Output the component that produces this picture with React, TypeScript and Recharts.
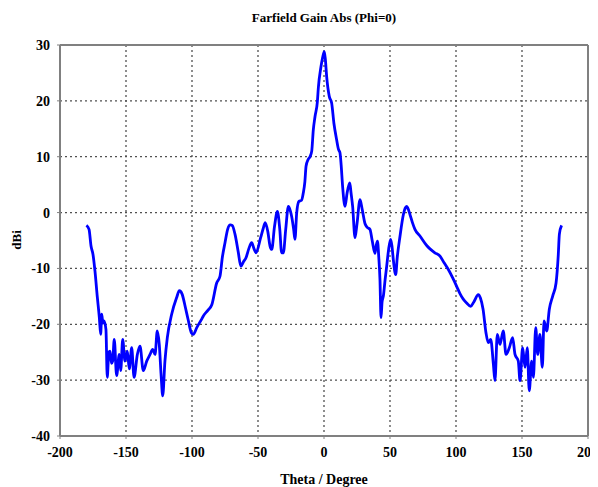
import React from 'react';
import { LineChart, Line, XAxis, YAxis, CartesianGrid, ReferenceLine } from 'recharts';

const chartTitle = 'Farfield Gain Abs (Phi=0)';
const xAxisTitle = 'Theta / Degree';
const yAxisTitle = 'dBi';

const xTicks = [-200, -150, -100, -50, 0, 50, 100, 150, 200];
const yTicks = [-40, -30, -20, -10, 0, 10, 20, 30];

const thetaValues = [
  -180, -178, -176.5, -175, -173.5, -171.7, -170.2, -169.2, -168.4, -167.5,
  -166.7, -165.2, -164.2, -163, -162.1, -161, -160.1, -158.9, -157.1, -155.1,
  -154, -152.5, -150.8, -149, -147.5, -145.7, -143.9, -141.4, -139.4, -136.9,
  -134.3, -131.8, -129.8, -128, -126.3, -124.8, -123.3, -122.2, -120.5, -118.7,
  -115.4, -111.6, -109.6, -107.5, -105, -103, -100.5, -99, -96.4, -93,
  -91.4, -88, -85, -81.3, -78.8, -77, -75, -73, -71, -69.5,
  -67.4, -65, -63, -61, -59.1, -57, -54.8, -53, -51.5, -48,
  -46, -44.5, -42.5, -40.9, -39.6, -37.5, -35.3, -33.5, -32.1, -30.8,
  -29, -27, -25.5, -24.5, -23, -22, -20.7, -19, -17, -15.7,
  -14.5, -13.6, -12, -10.6, -9.3, -8.1, -6.8, -5, -4.3, -2.3,
  -1, 0.2, 1, 2, 4, 5.8, 7.5, 9.6, 11, 12.1,
  13, 14.1, 15.9, 17.5, 19.5, 20.5, 21.7, 23.5, 25, 27.3,
  29, 31.1, 33, 34.8, 36.5, 38.6, 39.5, 40.5, 41.5, 42.4,
  43.2, 44, 45, 46.3, 47.5, 49, 50.5, 51.5, 52.5, 54.3,
  55.5, 57.6, 60.1, 61.5, 62.6, 64, 65.2, 67, 68.9, 72.7,
  77.8, 80.3, 84, 87.9, 91, 94.2, 97.5, 100.5, 103, 105.5,
  108.1, 111.1, 113.5, 116.9, 118.5, 120.5, 122.7, 124.5, 126.3, 128.3,
  129.5, 131.3, 133.3, 135.8, 137.9, 140.4, 142.9, 144.7, 147.2, 148.5,
  150.5, 152.3, 154, 155.5, 157.3, 158.6, 160.4, 161.9, 163.6, 165.4,
  166.7, 168.7, 170.7, 173.3, 175.8, 177.5, 178.3, 180,
];

const gainValues = [
  -2.3, -3, -6, -7.5, -10.5, -15.2, -18.8, -21.8, -18.2, -19.8,
  -19.4, -20.9, -29.5, -25, -24.8, -27, -26.6, -22.7, -29.2, -25.4,
  -28.3, -22.7, -26.6, -24.8, -28, -24.2, -29.5, -25.4, -23.9, -28.3,
  -26.6, -25.4, -24.5, -25.4, -21.2, -23.6, -29.5, -32.8, -26.6, -22.4,
  -18.2, -15.2, -14, -14.6, -17, -19.1, -21.5, -21.8, -20.6, -19.2,
  -18.5, -17.5, -16.5, -12.6, -11.4, -8, -5.4, -3, -2.2, -2.3,
  -3.9, -7, -9.6, -8.8, -8.1, -6.5, -5.4, -6.5, -7.2, -4.5,
  -2.8, -1.8, -3.5, -6, -6.6, -2.5, 0.2, -3, -7.2, -7.2,
  -3, 1.1, 0.3, -0.7, -3, -4.8, -0.1, 2, 2.2, 3.5,
  5.5, 8.3, 9.5, 10, 11, 14.8, 17.2, 19.9, 22.3, 26.1,
  27.8, 28.8, 27.5, 24.4, 20.8, 19.6, 16, 13, 11.3, 10.7,
  8.5, 4.7, 1.1, 3.5, 5.3, 3.5, 1.1, -4.5, -2, 2.3,
  0.5, -2, -2.7, -3, -5, -7.3, -6, -5.1, -8, -12,
  -18.8, -16, -14.9, -12, -9.6, -6.5, -4.8, -6, -8.4, -11.1,
  -8, -4.2, -0.4, 0.8, 1.1, 0.5, -0.4, -1.8, -3, -4.2,
  -5.9, -6.5, -7.2, -7.8, -9, -10.2, -11.7, -13.2, -14.5, -15.5,
  -16.2, -16.8, -16, -14.7, -15.3, -17.3, -21.5, -23.3, -22.7, -27.1,
  -30.1, -21.8, -23.6, -21.2, -25.4, -24.2, -22.4, -25.4, -26.6, -30.1,
  -24.2, -27.7, -24.2, -31.9, -26.6, -29.5, -20.6, -25.4, -21.8, -27.7,
  -19.4, -21.2, -17.3, -14.9, -12.6, -7.5, -3.9, -2.3,
];

const data = thetaValues.map((t, i) => ({ theta: t, gain: gainValues[i] }));

const font = "'Liberation Serif', 'Times New Roman', serif";
const tickStyle = { fill: '#000', fontSize: 14, fontWeight: 'bold', fontFamily: font };
const axisStroke = '#808080';

export default function App() {
  return (
    <div style={{ position: 'relative', width: 590, height: 479 }}>
      <LineChart
        width={590}
        height={479}
        data={data}
        margin={{ top: 37, right: 10, left: 0, bottom: 21 }}
      >
        <CartesianGrid stroke="#505050" strokeDasharray="2 3" strokeWidth={1.3} />
        <XAxis
          type="number"
          dataKey="theta"
          domain={[-200, 200]}
          ticks={xTicks}
          height={30}
          tick={tickStyle}
          tickSize={3}
          tickMargin={8}
          axisLine={{ stroke: axisStroke, strokeWidth: 2 }}
          tickLine={{ stroke: axisStroke }}
          allowDataOverflow
        />
        <YAxis
          type="number"
          domain={[-40, 30]}
          ticks={yTicks}
          width={52}
          tick={tickStyle}
          tickSize={3}
          tickMargin={7}
          axisLine={{ stroke: axisStroke, strokeWidth: 2 }}
          tickLine={{ stroke: axisStroke }}
          allowDataOverflow
        />
        <ReferenceLine y={30} stroke={axisStroke} strokeWidth={2} />
        <ReferenceLine x={200} stroke={axisStroke} strokeWidth={2} />
        <Line
          type="monotone"
          dataKey="gain"
          stroke="#0000ff"
          strokeWidth={2.8}
          dot={false}
          isAnimationActive={false}
        />
      </LineChart>
      <div
        style={{
          position: 'absolute', left: 0, width: 632, top: 2, textAlign: 'center',
          fontFamily: font, fontWeight: 'bold', fontSize: 13, color: '#000',
        }}
      >
        {chartTitle}
      </div>
      <div
        style={{
          position: 'absolute', left: 0, width: 632, top: 464, textAlign: 'center',
          fontFamily: font, fontWeight: 'bold', fontSize: 14, color: '#000',
        }}
      >
        {xAxisTitle}
      </div>
      <div
        style={{
          position: 'absolute', left: 9, top: 232, transform: 'translate(-50%, -50%) rotate(-90deg)',
          fontFamily: font, fontWeight: 'bold', fontSize: 13, color: '#000', whiteSpace: 'nowrap',
        }}
      >
        {yAxisTitle}
      </div>
    </div>
  );
}
